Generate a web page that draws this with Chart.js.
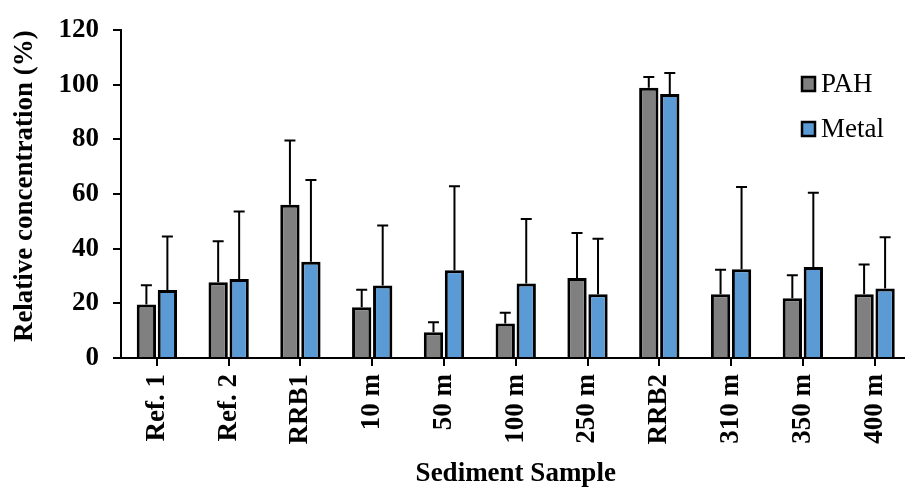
<!DOCTYPE html>
<html>
<head>
<meta charset="utf-8">
<script src="https://cdn.jsdelivr.net/npm/chart.js@4"></script>
<style>
  html, body { margin: 0; padding: 0; background: #fff; }
  #wrap { width: 905px; height: 488px; overflow: hidden; }
</style>
</head>
<body>
<div id="wrap"><canvas id="js-canvas-sediment" width="915" height="488"></canvas></div>
<script>
// Sample names along the x-axis
const samples = ['Ref. 1', 'Ref. 2', 'RRB1', '10 m', '50 m', '100 m', '250 m', 'RRB2', '310 m', '350 m', '400 m'];
// Relative concentration (%) per sample
const pah = [19.6, 27.7, 56.1, 18.6, 9.4, 12.6, 29.3, 98.9, 23.3, 21.9, 23.3];
const metal = [24.9, 28.9, 35.2, 26.5, 32.1, 27.3, 23.3, 96.6, 32.5, 33.3, 25.4];
// Upper error bars (standard deviation)
const pahErr = [7.0, 15.0, 23.5, 6.4, 3.7, 4.0, 16.5, 4.0, 9.0, 8.4, 10.9];
const metalErr = [19.6, 24.7, 30.0, 22.0, 30.8, 23.6, 20.4, 7.7, 30.1, 27.2, 18.8];
// y-axis ticks
const yTicks = [0, 20, 40, 60, 80, 100, 120];

const serif = "'Liberation Serif', 'Times New Roman', serif";

// draws the upward error bars on top of each bar
const errorBars = {
  id: 'errorBars',
  afterDatasetsDraw(chart) {
    const ctx = chart.ctx;
    const y = chart.scales.y;
    ctx.save();
    ctx.strokeStyle = '#000';
    ctx.lineWidth = 2;
    chart.data.datasets.forEach((ds, i) => {
      const meta = chart.getDatasetMeta(i);
      meta.data.forEach((bar, j) => {
        const top = y.getPixelForValue(ds.data[j] + ds.errors[j]);
        const base = y.getPixelForValue(ds.data[j]);
        ctx.beginPath();
        ctx.moveTo(bar.x, base);
        ctx.lineTo(bar.x, top);
        ctx.moveTo(bar.x - 5.5, top);
        ctx.lineTo(bar.x + 5.5, top);
        ctx.stroke();
      });
    });
    ctx.restore();
  }
};

// legend sits inside the plot, top right
const innerLegend = {
  id: 'innerLegend',
  afterDraw(chart) {
    const ctx = chart.ctx;
    ctx.save();
    ctx.font = '27px ' + serif;
    ctx.textBaseline = 'middle';
    chart.data.datasets.forEach((ds, i) => {
      const yc = 84 + i * 45;
      ctx.fillStyle = ds.backgroundColor;
      ctx.fillRect(802, yc - 7, 13, 14);
      ctx.strokeStyle = '#000';
      ctx.lineWidth = 2.5;
      ctx.strokeRect(802, yc - 7, 13, 14);
      ctx.fillStyle = '#000';
      ctx.fillText(ds.label, 821, yc + 1);
    });
    ctx.restore();
  }
};

const ctx = document.getElementById('js-canvas-sediment');
new Chart(ctx, {
  type: 'bar',
  data: {
    labels: samples,
    datasets: [{
      label: 'PAH',
      data: pah,
      errors: pahErr,
      backgroundColor: '#808080',
      borderColor: '#000',
      borderWidth: 3
    }, {
      label: 'Metal',
      data: metal,
      errors: metalErr,
      backgroundColor: '#5B9BD5',
      borderColor: '#000',
      borderWidth: 3
    }]
  },
  options: {
    responsive: false,
    animation: false,
    devicePixelRatio: 1,
    categoryPercentage: 0.585,
    barPercentage: 0.92,
    layout: { padding: { top: 26, right: 0, bottom: 0, left: 0 } },
    plugins: {
      legend: { display: false },
      tooltip: { enabled: false }
    },
    scales: {
      x: {
        grid: { offset: false, drawOnChartArea: false, tickLength: 8, color: '#000', lineWidth: 2 },
        border: { color: '#000', width: 2 },
        ticks: {
          color: '#000', font: { family: serif, size: 27, weight: 'bold' },
          minRotation: 90, maxRotation: 90, padding: 8, autoSkip: false
        },
        title: {
          display: true, text: 'Sediment Sample', color: '#000',
          font: { family: serif, size: 27, weight: 'bold', lineHeight: 1 },
          padding: { top: 0, bottom: 0 }
        },
        afterFit(scale) { scale.height = 130; }
      },
      y: {
        min: 0,
        max: 120,
        afterBuildTicks(scale) { scale.ticks = yTicks.map(v => ({ value: v })); },
        grid: { drawOnChartArea: false, tickLength: 8, color: '#000', lineWidth: 2 },
        border: { color: '#000', width: 2 },
        ticks: { color: '#000', font: { family: serif, size: 27, weight: 'bold' }, padding: 14 },
        title: {
          display: true, text: 'Relative concentration (%)', color: '#000', align: 'end',
          font: { family: serif, size: 27, weight: 'bold', lineHeight: 1 },
          padding: { top: 12, bottom: 0 }
        },
        afterFit(scale) { scale.width = 121; }
      }
    }
  },
  plugins: [errorBars, innerLegend]
});
</script>
</body>
</html>
